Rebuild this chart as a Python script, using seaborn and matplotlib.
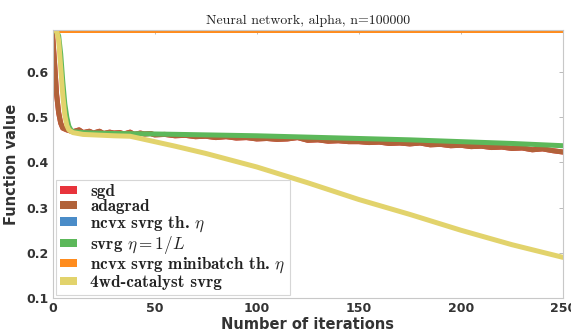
import numpy as np
import pandas as pd
import matplotlib
matplotlib.use("Agg")
import matplotlib.pyplot as plt
import seaborn as sns
from matplotlib.patches import Patch

# ---- data ----
x_adagrad = [0, 1, 2, 3, 4, 5, 7, 10, 13, 15, 18, 20, 23, 25, 28, 30, 33, 35, 38, 40, 43, 45, 48, 50,
             55, 60, 65, 70, 75, 80, 85, 90, 95, 100, 105, 110, 115, 120, 125, 130, 135, 140, 145,
             150, 155, 160, 165, 170, 175, 180, 185, 190, 195, 200, 205, 210, 215, 220, 225, 230,
             235, 240, 245, 250]
y_adagrad = [0.685, 0.62, 0.55, 0.51, 0.487, 0.476, 0.472, 0.468, 0.472, 0.466, 0.469, 0.465, 0.469, 0.464,
             0.467, 0.465, 0.466, 0.463, 0.467, 0.462, 0.465, 0.463, 0.464, 0.461,
             0.462, 0.459, 0.46, 0.457, 0.458, 0.455, 0.457, 0.454, 0.455, 0.452, 0.453, 0.451, 0.452,
             0.455, 0.449, 0.45, 0.447, 0.448, 0.446, 0.446, 0.444, 0.445, 0.442, 0.443, 0.441,
             0.443, 0.439, 0.44, 0.437, 0.438, 0.435, 0.436, 0.433, 0.434, 0.431, 0.432, 0.428,
             0.43, 0.426, 0.423]

x_svrg = [0, 2, 3, 4, 5, 6, 7, 8, 9, 10, 15, 20, 30, 50, 75, 100, 125, 150, 175, 200, 225, 250]
y_svrg = [0.692, 0.69, 0.68, 0.64, 0.58, 0.53, 0.5, 0.48, 0.472, 0.468, 0.466, 0.465, 0.464, 0.463,
          0.461, 0.459, 0.456, 0.453, 0.45, 0.446, 0.442, 0.437]

x_catalyst = [0, 2, 3, 4, 5, 6, 7, 8, 10, 15, 20, 30, 38, 45, 50, 60, 75, 100, 125, 150, 175, 200, 225, 250]
y_catalyst = [0.693, 0.692, 0.67, 0.61, 0.55, 0.505, 0.482, 0.472, 0.466, 0.462, 0.461, 0.459, 0.458,
              0.451, 0.446, 0.436, 0.42, 0.39, 0.355, 0.318, 0.285, 0.25, 0.218, 0.19]

x_flat = [0, 250]
y_sgd = [0.6931, 0.6931]
y_ncvx = [0.6931, 0.6931]
y_minibatch = [0.6931, 0.6931]

labels = ["sgd", "adagrad", r"ncvx svrg th. $\eta$", r"svrg $\eta=1/L$",
          r"ncvx svrg minibatch th. $\eta$", "4wd-catalyst svrg"]
colors = ["#e8343c", "#b1623a", "#4a8cc8", "#5cb85a", "#ff8c1e", "#e2d36c"]

series = [
    (x_adagrad, y_adagrad),  # sgd hidden under adagrad
    (x_adagrad, y_adagrad),
    (x_flat, y_ncvx),
    (x_svrg, y_svrg),
    (x_flat, y_minibatch),
    (x_catalyst, y_catalyst),
]

frames = []
for lab, (xs, ys) in zip(labels, series):
    frames.append(pd.DataFrame({"iter": xs, "value": ys, "method": lab}))
df = pd.concat(frames, ignore_index=True)

sns.set_theme(style="white")
plt.rcParams["mathtext.fontset"] = "cm"
plt.rcParams["axes.unicode_minus"] = False

fig = plt.figure(figsize=(5.71, 3.33), dpi=100)
ax = fig.add_axes([0.092, 0.105, 0.894, 0.805])

sns.lineplot(data=df, x="iter", y="value", hue="method", hue_order=labels,
             palette=colors, linewidth=3.6, ax=ax, legend=False, estimator=None,
             sort=False)

ax.set_xlim(0, 250)
ax.set_ylim(0.1, 0.6931)
ax.set_xticks([0, 50, 100, 150, 200, 250])
ax.set_yticks([0.1, 0.2, 0.3, 0.4, 0.5, 0.6])
ax.set_yticklabels(["0.1", "0.2", "0.3", "0.4", "0.5", "0.6"])

for sp in ax.spines.values():
    sp.set_color("#c8c8c8")
    sp.set_linewidth(0.8)
ax.tick_params(direction="in", length=3, width=0.6, color="#b0b0b0",
               top=True, right=True, labelsize=9, labelcolor="#333333", pad=3)
for t in ax.get_xticklabels() + ax.get_yticklabels():
    t.set_fontweight("bold")

ax.set_xlabel("Number of iterations", fontsize=10.5, fontweight="bold", color="#333333", labelpad=1)
ax.set_ylabel("Function value", fontsize=10.5, fontweight="bold", color="#333333", labelpad=5)
ax.set_title("Neural network, alpha, n=100000", fontfamily="cmr10", fontsize=10, color="#222222", pad=4)

handles = [Patch(facecolor=c, edgecolor="none") for c in colors]
leg = ax.legend(handles, labels, loc="lower left", frameon=True, fancybox=False,
                prop={"family": "cmb10", "size": 12.3}, handlelength=1.0, handleheight=0.35,
                handletextpad=0.75, labelspacing=0.0, borderaxespad=0.2, borderpad=0.25)
leg.get_frame().set_edgecolor("#cccccc")
leg.get_frame().set_linewidth(0.8)
for t in leg.get_texts():
    t.set_color("#222222")

fig.savefig("out.png", dpi=100)
